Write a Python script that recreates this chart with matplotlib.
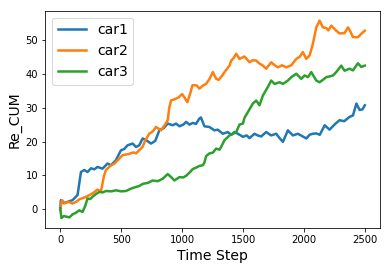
import matplotlib
matplotlib.use("Agg")
import matplotlib.pyplot as plt

# values
t_car1 = [0, 5, 30, 60, 101, 142, 170, 197, 224, 252, 280, 306, 347, 388, 416,
          457, 485, 498, 525, 553, 594, 622, 649, 676, 705, 745, 780, 813, 850,
          882, 923, 950, 978, 1010, 1033, 1060, 1088, 1114, 1142, 1155, 1183,
          1224, 1265, 1293, 1334, 1375, 1403, 1430, 1457, 1499, 1530, 1553,
          1594, 1620, 1649, 1690, 1731, 1772, 1800, 1827, 1868, 1909, 1950,
          1990, 2020, 2046, 2073, 2100, 2130, 2170, 2210, 2250, 2292, 2330,
          2375, 2402, 2430, 2457, 2480, 2499]
car1 = [0, 2.7, 1.8, 2.2, 2.7, 4.2, 11.0, 11.6, 11.0, 12.1, 11.8, 12.5, 12.0,
        13.5, 13.0, 14.5, 16.5, 17.4, 17.8, 18.9, 19.4, 18.4, 18.9, 20.9, 20.4,
        19.4, 20.2, 23.3, 24.0, 25.3, 24.8, 25.3, 24.5, 25.0, 25.8, 25.0, 25.5,
        25.2, 26.8, 27.1, 24.5, 24.3, 23.3, 23.5, 22.3, 22.8, 22.0, 22.8, 22.3,
        21.4, 21.8, 21.0, 22.3, 21.8, 21.5, 22.8, 21.8, 22.3, 21.0, 19.9, 23.3,
        21.8, 22.3, 21.5, 20.9, 22.0, 22.3, 22.4, 22.0, 24.8, 23.5, 25.0, 26.3,
        26.0, 27.3, 27.7, 31.2, 29.3, 29.5, 30.7]

t_car2 = [0, 14, 40, 70, 100, 130, 160, 200, 240, 270, 305, 334, 360, 375, 417,
          445, 472, 512, 560, 600, 622, 650, 675, 700, 730, 760, 786, 827, 860,
          882, 895, 909, 940, 970, 1000, 1020, 1043, 1065, 1085, 1118, 1142,
          1170, 1197, 1225, 1252, 1280, 1300, 1330, 1348, 1389, 1403, 1420,
          1444, 1471, 1512, 1553, 1580, 1608, 1635, 1660, 1690, 1731, 1760,
          1786, 1820, 1855, 1896, 1937, 1965, 1991, 2019, 2046, 2073, 2101,
          2128, 2155, 2183, 2200, 2224, 2265, 2292, 2333, 2361, 2380, 2402,
          2443, 2470, 2499]
car2 = [0, 2.7, 1.8, 2.2, 1.7, 2.2, 3.0, 3.5, 4.2, 4.8, 5.8, 5.3, 10.0, 11.6,
        13.0, 13.5, 14.5, 16.0, 16.3, 16.8, 16.5, 17.5, 18.4, 20.5, 22.3, 23.0,
        24.3, 23.3, 25.0, 26.3, 30.0, 32.1, 32.5, 33.0, 34.0, 33.0, 31.6, 34.0,
        36.6, 36.6, 35.6, 36.5, 37.0, 38.5, 40.5, 38.5, 38.2, 39.5, 40.5, 42.4,
        43.9, 44.5, 45.9, 44.4, 45.1, 43.4, 44.0, 43.9, 43.0, 42.5, 41.5, 43.4,
        42.5, 41.9, 42.5, 41.9, 42.5, 44.4, 45.0, 46.4, 44.4, 45.4, 48.8, 53.7,
        55.7, 53.7, 53.5, 52.8, 54.2, 52.7, 51.9, 52.0, 53.7, 52.5, 50.8, 50.8,
        51.8, 52.7]

t_car3 = [0, 10, 30, 55, 75, 101, 130, 156, 183, 205, 224, 245, 265, 293, 320,
          350, 375, 420, 457, 500, 539, 580, 622, 650, 676, 720, 758, 800, 840,
          882, 910, 937, 978, 1010, 1033, 1060, 1088, 1115, 1142, 1170, 1183,
          1197, 1224, 1252, 1279, 1307, 1320, 1348, 1389, 1420, 1444, 1471,
          1499, 1512, 1540, 1580, 1608, 1635, 1663, 1704, 1731, 1759, 1800,
          1827, 1868, 1896, 1937, 1978, 2005, 2033, 2060, 2101, 2128, 2155,
          2183, 2210, 2238, 2265, 2306, 2333, 2374, 2402, 2443, 2470, 2499]
car3 = [0.3, -2.6, -2.0, -2.2, -2.4, -1.5, -1.0, -0.3, -0.8, 1.0, 3.2, 3.0,
        3.7, 4.5, 5.1, 5.0, 5.4, 5.3, 5.6, 5.3, 5.4, 6.1, 6.6, 6.9, 7.5, 7.8,
        8.5, 8.3, 9.0, 10.4, 9.5, 8.5, 9.5, 9.4, 9.9, 10.8, 11.9, 12.3, 12.8,
        13.0, 13.8, 15.7, 16.5, 16.7, 17.9, 17.6, 18.4, 20.4, 21.8, 22.3, 22.8,
        25.0, 25.3, 27.0, 28.7, 31.2, 32.1, 30.7, 33.6, 36.1, 38.0, 37.0, 37.5,
        37.0, 38.0, 39.0, 40.0, 38.5, 39.5, 39.0, 40.5, 38.0, 37.5, 38.2, 39.0,
        39.2, 39.5, 40.5, 42.4, 40.9, 41.5, 41.0, 43.1, 42.0, 42.4]

fig = plt.figure(figsize=(390 / 72, 270 / 72), dpi=72)
ax = fig.add_axes([0.1154, 0.1556, 0.859, 0.8048])

ax.plot(t_car1, car1, color='#1f77b4', lw=2.5, label='car1')
ax.plot(t_car2, car2, color='#ff7f0e', lw=2.5, label='car2')
ax.plot(t_car3, car3, color='#2ca02c', lw=2.5, label='car3')

ax.set_xlabel("Time Step", fontsize=14)
ax.set_ylabel("Re_CUM", fontsize=14)
ax.set_xticks([0, 500, 1000, 1500, 2000, 2500])
ax.set_yticks([0, 10, 20, 30, 40, 50])
ax.legend(loc='upper left', fontsize=14)

fig.savefig("out.png", dpi=72)
